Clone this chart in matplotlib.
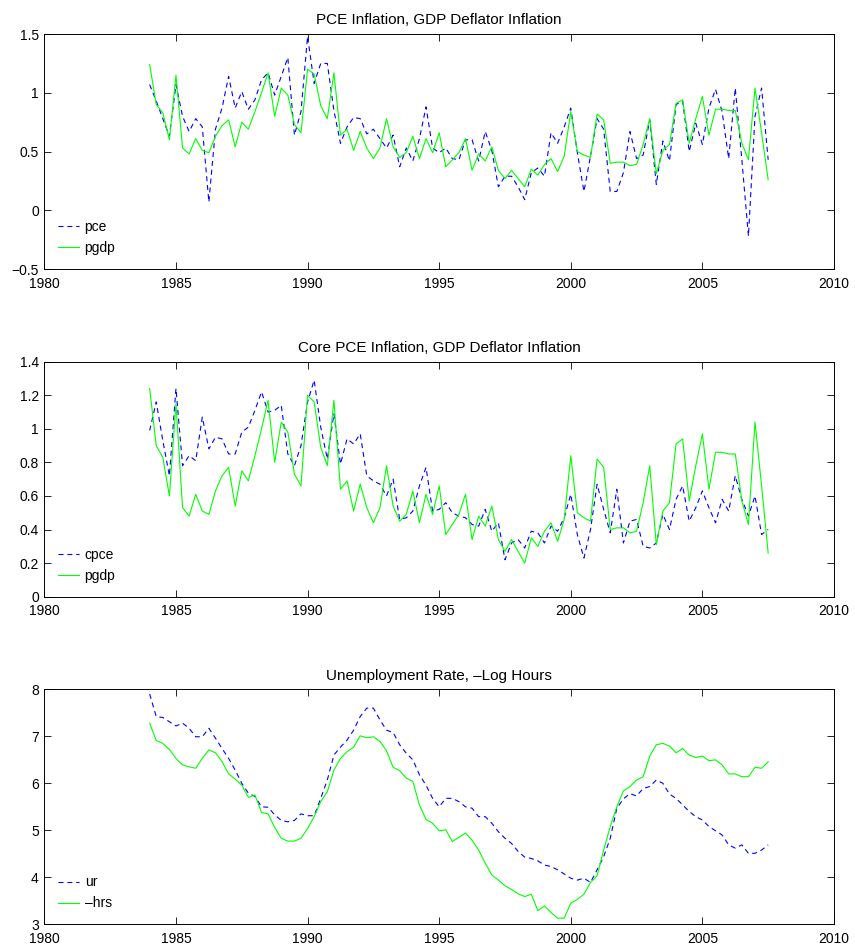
import numpy as np
import matplotlib
matplotlib.use('Agg')
import matplotlib.pyplot as plt
from matplotlib.ticker import FuncFormatter

plt.rcParams['font.family'] = ['Liberation Sans', 'DejaVu Sans']

# quarterly dates, 1984Q1 .. 2007Q3
dates = 1984 + np.arange(95) / 4.0

pce = [1.07, 0.93, 0.78, 0.63, 1.07, 0.80, 0.67, 0.78, 0.71, 0.07,
       0.69, 0.87, 1.14, 0.87, 1.01, 0.86, 0.94, 1.11, 1.17, 0.98,
       1.14, 1.30, 0.64, 0.84, 1.48, 1.08, 1.25, 1.25, 0.85, 0.57,
       0.71, 0.79, 0.78, 0.65, 0.69, 0.61, 0.53, 0.64, 0.37, 0.53,
       0.42, 0.61, 0.88, 0.53, 0.49, 0.53, 0.44, 0.43, 0.60, 0.60,
       0.42, 0.67, 0.51, 0.20, 0.29, 0.29, 0.20, 0.09, 0.32, 0.36,
       0.29, 0.66, 0.57, 0.71, 0.87, 0.49, 0.16, 0.46, 0.78, 0.69,
       0.16, 0.16, 0.32, 0.67, 0.44, 0.47, 0.77, 0.22, 0.59, 0.42,
       0.90, 0.93, 0.50, 0.74, 0.56, 0.87, 1.03, 0.84, 0.44, 1.04,
       0.43, -0.22, 0.80, 1.04, 0.43]

pgdp = [1.24, 0.90, 0.83, 0.60, 1.15, 0.53, 0.48, 0.61, 0.51, 0.49,
        0.63, 0.72, 0.77, 0.54, 0.75, 0.69, 0.84, 1.00, 1.17, 0.80,
        1.04, 0.98, 0.73, 0.66, 1.20, 1.16, 0.89, 0.78, 1.17, 0.64,
        0.69, 0.51, 0.67, 0.53, 0.44, 0.53, 0.78, 0.54, 0.45, 0.49,
        0.63, 0.44, 0.61, 0.49, 0.66, 0.37, 0.43, 0.49, 0.61, 0.34,
        0.48, 0.42, 0.54, 0.34, 0.27, 0.34, 0.27, 0.20, 0.35, 0.30,
        0.39, 0.44, 0.33, 0.46, 0.84, 0.50, 0.47, 0.45, 0.82, 0.77,
        0.40, 0.41, 0.41, 0.38, 0.39, 0.56, 0.78, 0.31, 0.51, 0.56,
        0.91, 0.94, 0.57, 0.78, 0.97, 0.64, 0.86, 0.86, 0.85, 0.85,
        0.57, 0.43, 1.04, 0.66, 0.26]

cpce = [0.99, 1.16, 0.93, 0.72, 1.24, 0.78, 0.84, 0.81, 1.07, 0.88,
        0.95, 0.94, 0.85, 0.85, 0.98, 1.01, 1.11, 1.22, 1.10, 1.11,
        1.14, 0.85, 0.78, 0.90, 1.16, 1.29, 1.01, 0.82, 1.09, 0.79,
        0.94, 0.91, 0.97, 0.72, 0.69, 0.67, 0.60, 0.70, 0.46, 0.47,
        0.51, 0.66, 0.77, 0.51, 0.52, 0.56, 0.50, 0.48, 0.47, 0.43,
        0.42, 0.52, 0.39, 0.44, 0.22, 0.32, 0.34, 0.29, 0.39, 0.38,
        0.32, 0.42, 0.39, 0.47, 0.61, 0.37, 0.23, 0.40, 0.67, 0.52,
        0.38, 0.64, 0.32, 0.45, 0.46, 0.30, 0.29, 0.32, 0.49, 0.40,
        0.58, 0.66, 0.45, 0.53, 0.63, 0.53, 0.44, 0.58, 0.51, 0.72,
        0.58, 0.48, 0.60, 0.37, 0.40]

ur = [7.90, 7.42, 7.40, 7.31, 7.22, 7.28, 7.17, 6.99, 6.99, 7.17,
      6.96, 6.74, 6.53, 6.28, 6.00, 5.79, 5.72, 5.50, 5.49, 5.33,
      5.21, 5.18, 5.21, 5.35, 5.31, 5.31, 5.68, 6.07, 6.60, 6.77,
      6.92, 7.13, 7.42, 7.60, 7.60, 7.35, 7.13, 7.08, 6.82, 6.64,
      6.50, 6.18, 5.96, 5.68, 5.50, 5.68, 5.68, 5.61, 5.50, 5.47,
      5.29, 5.29, 5.15, 4.97, 4.83, 4.72, 4.55, 4.43, 4.40, 4.35,
      4.26, 4.23, 4.16, 4.07, 3.98, 3.94, 3.98, 3.89, 4.16, 4.44,
      4.83, 5.47, 5.67, 5.78, 5.73, 5.89, 5.93, 6.07, 6.00, 5.77,
      5.68, 5.54, 5.40, 5.29, 5.22, 5.08, 4.99, 4.90, 4.69, 4.62,
      4.69, 4.51, 4.51, 4.58, 4.69]

hrs = [7.28, 6.91, 6.85, 6.72, 6.53, 6.39, 6.35, 6.32, 6.53, 6.71,
       6.65, 6.46, 6.20, 6.09, 5.96, 5.70, 5.75, 5.38, 5.35, 5.06,
       4.83, 4.77, 4.77, 4.83, 5.04, 5.29, 5.61, 5.82, 6.28, 6.53,
       6.67, 6.77, 7.01, 6.97, 6.99, 6.89, 6.69, 6.34, 6.27, 6.11,
       6.04, 5.54, 5.23, 5.15, 4.99, 5.01, 4.76, 4.85, 4.94, 4.79,
       4.58, 4.30, 4.05, 3.94, 3.82, 3.74, 3.65, 3.59, 3.64, 3.29,
       3.39, 3.25, 3.13, 3.13, 3.45, 3.53, 3.64, 3.89, 4.03, 4.58,
       5.08, 5.50, 5.84, 5.93, 6.07, 6.14, 6.58, 6.82, 6.85, 6.79,
       6.65, 6.74, 6.60, 6.55, 6.58, 6.48, 6.50, 6.39, 6.20, 6.20,
       6.14, 6.14, 6.34, 6.32, 6.46]

panels = [
    ('PCE Inflation, GDP Deflator Inflation', pce, 'pce', pgdp, 'pgdp',
     (-0.5, 1.5), np.arange(-0.5, 1.51, 0.5)),
    ('Core PCE Inflation, GDP Deflator Inflation', cpce, 'cpce', pgdp, 'pgdp',
     (0, 1.4), np.arange(0, 1.41, 0.2)),
    ('Unemployment Rate, \u2013Log Hours', ur, 'ur', hrs, '\u2013hrs',
     (3, 8), np.arange(3, 8.1, 1)),
]

fig = plt.figure(figsize=(8.55, 9.48), dpi=100)
bottoms = [0.7162, 0.3706, 0.0250]

fmt = FuncFormatter(lambda v, p: ('%g' % round(v, 4)).replace('-', '\u2212'))

for (title, s1, l1, s2, l2, ylim, yt), b in zip(panels, bottoms):
    ax = fig.add_axes([0.0519, b, 0.9235, 0.2479])
    ax.plot(dates, s1, color='#0000ff', lw=0.8, linestyle=(0, (4.5, 3.5)), label=l1)
    ax.plot(dates, s2, color='#00ff00', lw=0.8, label=l2)
    ax.set_xlim(1980, 2010)
    ax.set_ylim(*ylim)
    ax.set_xticks(np.arange(1980, 2011, 5))
    ax.set_yticks(yt)
    ax.yaxis.set_major_formatter(fmt)
    ax.tick_params(direction='in', top=True, right=True, length=5, width=0.6,
                   labelsize=10)
    ax.tick_params(axis='x', pad=5.5)
    ax.tick_params(axis='y', pad=4)
    for sp in ax.spines.values():
        sp.set_linewidth(0.7)
    ax.set_title(title, fontsize=11, pad=7)
    ax.legend(loc='lower left', frameon=False, fontsize=10, handlelength=1.5,
              handletextpad=0.4, borderaxespad=0.6, labelspacing=0.5)

plt.savefig('out.png', dpi=100)
